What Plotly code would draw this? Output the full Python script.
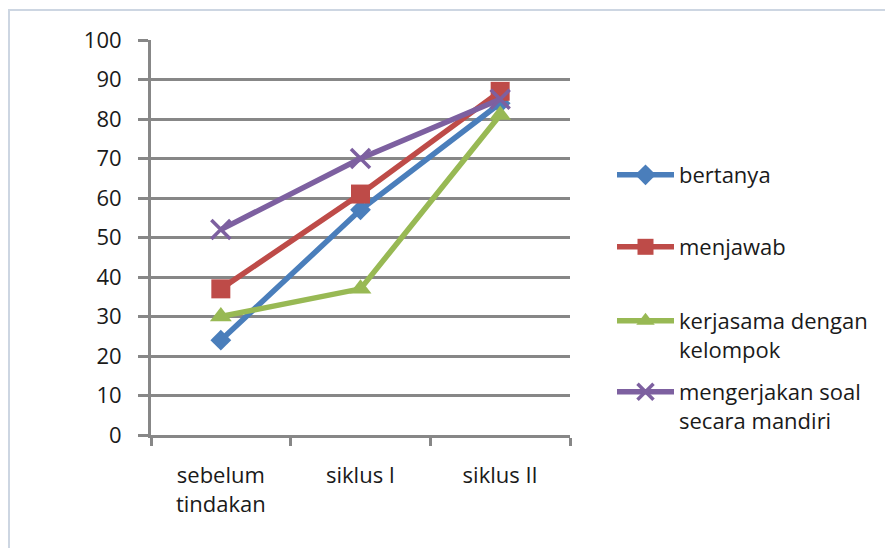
import plotly.graph_objects as go

categories = ["sebelum<br>tindakan", "siklus I", "siklus II"]
bertanya = [24, 57, 84]
menjawab = [37, 61, 87]
kerjasama = [30, 37, 81]
mandiri = [52, 70, 85]
series_names = ["bertanya", "menjawab", "kerjasama dengan<br>kelompok", "mengerjakan soal<br>secara mandiri"]
y_ticks = list(range(0, 101, 10))

colors = ["#4a7ebb", "#be4b48", "#98b954", "#7d60a0"]
symbols = ["diamond", "square", "triangle-up", "x-thin"]
sizes = [16, 19, 19, 19]
legend_ids = ["legend", "legend2", "legend3", "legend4"]

# page offset of the plot div (body margin)
OFF = 8
W, H = 893 - OFF, 548 - OFF
L, R, T, B = 151 - OFF, 570 - OFF, 40 - OFF, 435 - OFF
pw, ph = R - L, B - T

fig = go.Figure()
for vals, name, c, s, sz, lg in zip([bertanya, menjawab, kerjasama, mandiri], series_names, colors, symbols, sizes, legend_ids):
    marker = dict(symbol=s, size=sz, color=c)
    if s == "x-thin":
        marker["line"] = dict(color=c, width=3.5)
    fig.add_trace(go.Scatter(
        x=categories, y=vals, name=name, mode="lines+markers",
        line=dict(color=c, width=5.5), marker=marker, legend=lg,
    ))

def px_x(x):
    return (x - OFF - L) / pw

def px_y(y):
    return (B - (y - OFF)) / ph

font = dict(family="Open Sans", size=22, color="#1a1a1a")
legend_tops = [154, 226, 300, 371]
legends = {}
for lg, top in zip(legend_ids, legend_tops):
    legends[lg] = dict(
        x=px_x(612), y=px_y(top), xanchor="left", yanchor="top",
        font=font, itemwidth=57, valign="top", bgcolor="rgba(0,0,0,0)",
        tracegroupgap=0, traceorder="normal",
    )

grid = "#878787"
fig.update_layout(
    width=W, height=H,
    margin=dict(l=L, r=W - R, t=T, b=H - B, pad=0),
    paper_bgcolor="white", plot_bgcolor="white",
    font=font,
    showlegend=True,
    xaxis=dict(
        type="category", tickson="boundaries", ticks="outside", ticklen=8,
        tickwidth=3, tickcolor=grid, showline=True, linecolor=grid, linewidth=3,
        showgrid=False, zeroline=False, ticklabelstandoff=19, tickfont=font,
        range=[-0.5, 2.5],
    ),
    yaxis=dict(
        range=[0, 100], tickvals=y_ticks, ticks="outside", ticklen=10, tickwidth=3,
        tickcolor=grid, showline=True, linecolor=grid, linewidth=3,
        showgrid=True, gridcolor=grid, gridwidth=3, zeroline=False,
        ticklabelstandoff=12, tickfont=font,
    ),
    shapes=[dict(
        type="rect", xref="paper", yref="paper",
        x0=px_x(9), x1=px_x(905), y0=px_y(560), y1=px_y(10),
        line=dict(color="#cdd6e2", width=2), fillcolor="rgba(0,0,0,0)", layer="below",
    )],
    **legends,
)

fig.write_html("out.html")
